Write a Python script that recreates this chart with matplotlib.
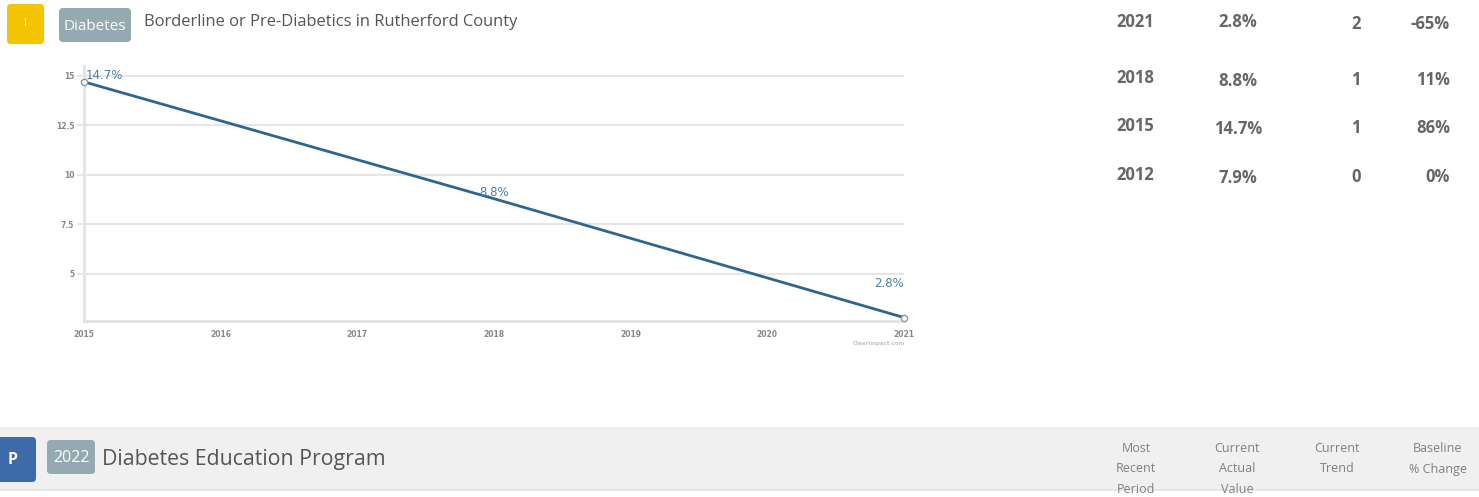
import matplotlib
matplotlib.use("Agg")
import matplotlib.pyplot as plt
from matplotlib.patches import FancyBboxPatch, Rectangle

# ---- data ----
years = [2015, 2018, 2021]
values = [14.7, 8.8, 2.8]
value_labels = ["14.7%", "8.8%", "2.8%"]
x_ticks = [2015, 2016, 2017, 2018, 2019, 2020, 2021]
y_ticks = [5, 7.5, 10, 12.5, 15]
y_tick_labels = ["5", "7.5", "10", "12.5", "15"]

tbl_period = ["2021", "2018", "2015", "2012"]
tbl_value = ["2.8%", "8.8%", "14.7%", "7.9%"]
tbl_trend = ["2", "1", "1", "0"]
tbl_change = ["-65%", "11%", "86%", "0%"]

title = "Borderline or Pre-Diabetics in Rutherford County"
badge1 = "Diabetes"
badge2 = "2022"
program = "Diabetes Education Program"
col_headers = ["Most\nRecent\nPeriod", "Current\nActual\nValue", "Current\nTrend", "Baseline\n% Change"]

W, H = 1479, 497
fig = plt.figure(figsize=(W / 100, H / 100), dpi=100)
fig.patch.set_facecolor("white")

FONT = ["Open Sans", "DejaVu Sans"]

# ---- page overlay (pixel coordinates) ----
page = fig.add_axes([0, 0, 1, 1])
page.set_xlim(0, W)
page.set_ylim(H, 0)
page.axis("off")

def rbox(ax, x, y, w, h, color, r=4, **kw):
    p = FancyBboxPatch((x, y), w, h, boxstyle=f"round,pad=0,rounding_size={r}",
                       fc=color, ec="none", **kw)
    ax.add_patch(p)
    return p

# header row
rbox(page, 7, 4, 37, 40, "#f2c500")
page.text(25.5, 23, "I", color="white", fontsize=8, ha="center", va="center", family=FONT)
rbox(page, 59, 8, 72, 34, "#95a9b0")
page.text(95, 26, badge1, color="white", fontsize=11, ha="center", va="center", family=FONT)
page.text(144, 22, title, color="#555555", fontsize=11.9, ha="left", va="center", family=FONT)

# right table
row_y = [22, 78, 126, 175]
for i in range(4):
    y = row_y[i]
    page.text(1135, y, tbl_period[i], color="#666666", fontsize=12, fontweight="bold",
              ha="center", va="center", family=FONT)
    page.text(1238, y + 3 if i else y, tbl_value[i], color="#666666", fontsize=12, fontweight="bold",
              ha="center", va="center", family=FONT)
    page.text(1356, y + 2, tbl_trend[i], color="#666666", fontsize=12, fontweight="bold",
              ha="center", va="center", family=FONT)
    page.text(1450, y + 2, tbl_change[i], color="#666666", fontsize=12, fontweight="bold",
              ha="right", va="center", family=FONT)

# bottom band
page.add_patch(Rectangle((0, 427), W, 63, fc="#f0f0f0", ec="none"))
page.add_patch(Rectangle((0, 489), W, 2, fc="#e8e8e8", ec="none"))
rbox(page, -6, 437, 42, 45, "#3d6aa8")
page.text(13, 460, "P", color="white", fontsize=11.5, fontweight="bold", ha="center", va="center",
          family=FONT)
rbox(page, 47, 440, 48, 34, "#95a9b0")
page.text(71, 458, badge2, color="white", fontsize=11.5, ha="center", va="center", family=FONT)
page.text(102, 460, program, color="#555555", fontsize=15.3, ha="left", va="center", family=FONT)
hdr_x = [1136, 1237, 1337, 1438]
for hx, htxt in zip(hdr_x, col_headers):
    page.text(hx, 442, htxt, color="#808080", fontsize=9, ha="center", va="top",
              linespacing=1.75, family=FONT)

# ---- line chart ----
ax = fig.add_axes([84 / W, 1 - 320.5 / H, 820 / W, 254.5 / H])
ax.set_xlim(2015, 2021)
ax.set_ylim(2.65, 15.5)
ax.plot(years, values, color="#2f6690", lw=2, zorder=3, solid_capstyle="round")
ax.plot([years[0], years[-1]], [values[0], values[-1]], ls="none", marker="o", ms=4.5,
        mfc="white", mec="#8a9aa5", mew=1, zorder=4, clip_on=False)

ax.set_yticks(y_ticks)
ax.set_yticklabels(y_tick_labels)
ax.set_xticks(x_ticks)
ax.set_xticklabels([str(v) for v in x_ticks])
ax.grid(axis="y", color="#e6e6e6", lw=1.5)
ax.set_axisbelow(True)
for s in ["top", "right"]:
    ax.spines[s].set_visible(False)
for s in ["left", "bottom"]:
    ax.spines[s].set_color("#e3e3e3")
    ax.spines[s].set_linewidth(2)
ax.tick_params(axis="y", length=5, width=1.5, color="#e6e6e6", labelsize=5.5,
               labelcolor="#888888", pad=2)
ax.tick_params(axis="x", length=0, labelsize=5.5, labelcolor="#888888", pad=7)
for lab in ax.get_xticklabels() + ax.get_yticklabels():
    lab.set_fontweight("bold")

lab_col = "#4a7ea6"
ax.annotate(value_labels[0], (years[0], values[0]), xytext=(2, 6), textcoords="offset pixels",
            ha="left", va="center", fontsize=8.5, color=lab_col)
ax.annotate(value_labels[1], (years[1], values[1]), xytext=(0, 6), textcoords="offset pixels",
            ha="center", va="center", fontsize=8.5, color=lab_col)
ax.annotate(value_labels[2], (years[2], values[2]), xytext=(0, 34), textcoords="offset pixels",
            ha="right", va="center", fontsize=8.5, color=lab_col)

page.text(905, 344, "ClearImpact.com", color="#c4c4c4", fontsize=4, ha="right", va="center",
          fontweight="bold")

fig.savefig("out.png", dpi=100)
